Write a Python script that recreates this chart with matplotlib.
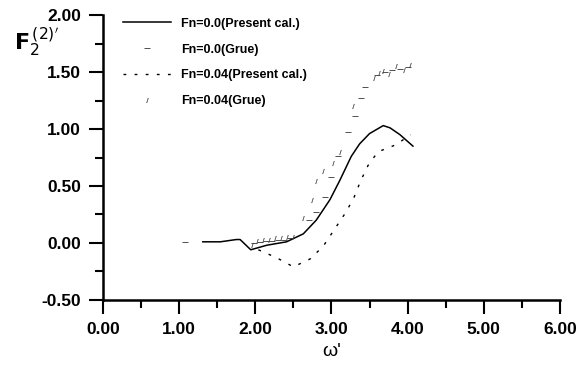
import matplotlib.pyplot as plt
from matplotlib.ticker import MultipleLocator, FormatStrFormatter

plt.rcParams['font.family'] = ['Liberation Sans', 'DejaVu Sans']

# Fn=0.0, present calculation (solid)
x_fn0 = [1.31, 1.54, 1.75, 1.80, 1.94, 2.15, 2.41, 2.63, 2.80, 2.98, 3.11, 3.26, 3.37, 3.50, 3.68, 3.77, 3.90, 4.07]
y_fn0 = [0.01, 0.01, 0.03, 0.03, -0.06, -0.02, 0.01, 0.08, 0.20, 0.38, 0.55, 0.76, 0.87, 0.96, 1.03, 1.01, 0.95, 0.85]

# Fn=0.04, present calculation (dashed)
x_fn04 = [2.04, 2.28, 2.50, 2.72, 2.89, 3.02, 3.18, 3.29, 3.38, 3.48, 3.61, 3.84, 4.04]
y_fn04 = [-0.06, -0.13, -0.21, -0.14, -0.03, 0.10, 0.26, 0.39, 0.54, 0.68, 0.80, 0.86, 0.95]

# Grue experiments
x_grue0 = [1.07, 1.98, 2.06, 2.14, 2.22, 2.30, 2.38, 2.46, 2.71, 2.80, 2.91, 3.00, 3.09, 3.22, 3.31, 3.39, 3.44,
           3.60, 3.70, 3.80, 3.90, 4.00]
y_grue0 = [0.01, 0.00, 0.01, 0.02, 0.02, 0.03, 0.03, 0.04, 0.20, 0.27, 0.40, 0.58, 0.76, 0.97, 1.11, 1.27, 1.37,
           1.47, 1.50, 1.52, 1.53, 1.54]
x_grue04 = [1.96, 2.02, 2.10, 2.18, 2.26, 2.34, 2.42, 2.50, 2.63, 2.74, 2.80, 2.89, 3.02, 3.11, 3.28,
            3.56, 3.62, 3.68, 3.75, 3.85, 3.95, 4.03]
y_grue04 = [-0.02, 0.02, 0.03, 0.03, 0.04, 0.04, 0.05, 0.05, 0.22, 0.38, 0.54, 0.63, 0.70, 0.80, 1.20,
            1.45, 1.49, 1.51, 1.48, 1.55, 1.52, 1.56]

fig = plt.figure(figsize=(5.79, 3.68), dpi=100)
ax = fig.add_axes([0.178, 0.185, 0.789, 0.774])

ax.plot(x_fn0, y_fn0, color='black', lw=1.1, label='Fn=0.0(Present cal.)')
ax.plot(x_grue0, y_grue0, ls='none', marker='_', ms=4, mew=0.6, color='#333333', label='Fn=0.0(Grue)')
ax.plot(x_fn04, y_fn04, color='black', lw=1.0, ls=(0, (2, 6)), label='Fn=0.04(Present cal.)')
ax.plot(x_grue04, y_grue04, ls='none', marker='$/$', ms=3.5, mew=0.2, color='#444444', label='Fn=0.04(Grue)')

ax.set_xlim(0, 6)
ax.set_ylim(-0.5, 2.0)
ax.xaxis.set_major_locator(MultipleLocator(1))
ax.xaxis.set_minor_locator(MultipleLocator(0.5))
ax.yaxis.set_major_locator(MultipleLocator(0.5))
ax.yaxis.set_minor_locator(MultipleLocator(0.25))
ax.xaxis.set_major_formatter(FormatStrFormatter('%.2f'))
ax.yaxis.set_major_formatter(FormatStrFormatter('%.2f'))

for s in ['top', 'right']:
    ax.spines[s].set_visible(False)
for s in ['left', 'bottom']:
    ax.spines[s].set_linewidth(1.8)
ax.tick_params(which='major', direction='out', length=10, width=1.5, labelsize=12.5, pad=6)
ax.tick_params(which='minor', direction='out', length=6, width=1.5)
for lab in ax.get_xticklabels() + ax.get_yticklabels():
    lab.set_fontweight('bold')

ax.set_xlabel("ω'", fontsize=14, labelpad=4)
fig.text(0.025, 0.865, r"$\mathbf{F}_{2}^{\,(2)'}$", fontsize=16)

leg = ax.legend(loc='upper left', bbox_to_anchor=(0.02, 1.03), frameon=False, handlelength=3.8,
                labelspacing=1.1, prop={'size': 9, 'weight': 'bold'})

fig.savefig('out.png', dpi=100)
